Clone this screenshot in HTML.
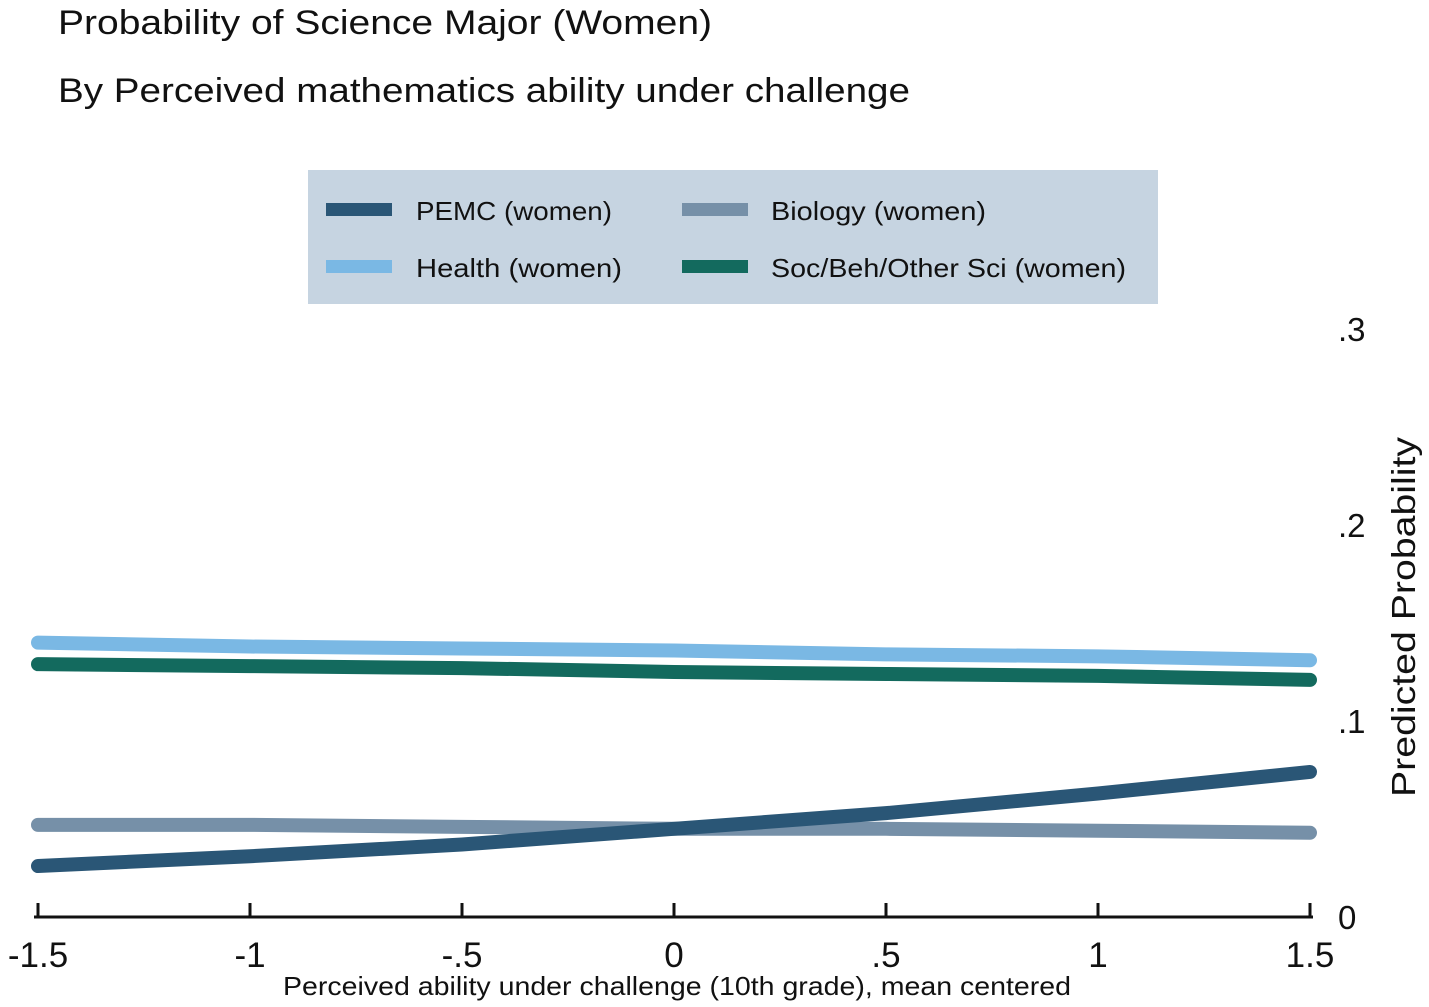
<!DOCTYPE html>
<html><head><meta charset="utf-8"><style>
body{margin:0;background:#fff;}
svg{display:block;font-family:"Liberation Sans",sans-serif;}
</style></head><body>
<svg id="chart" width="1429" height="1007">
<text x="58" y="34" font-size="34" fill="#111" textLength="654" lengthAdjust="spacingAndGlyphs">Probability of Science Major (Women)</text>
<text x="58" y="102" font-size="34" fill="#111" textLength="852" lengthAdjust="spacingAndGlyphs">By Perceived mathematics ability under challenge</text>
<g>
<rect x="308" y="170" width="850" height="134" fill="#c6d4e1"/>
<g><rect x="326" y="203" width="66" height="13" fill="#2a5676"/><text x="416" y="220" font-size="26" fill="#111" textLength="196" lengthAdjust="spacingAndGlyphs">PEMC (women)</text></g>
<g><rect x="682" y="203" width="66" height="13" fill="#7690a8"/><text x="771" y="220" font-size="26" fill="#111" textLength="215" lengthAdjust="spacingAndGlyphs">Biology (women)</text></g>
<g><rect x="326" y="260" width="66" height="13" fill="#7ab8e4"/><text x="416" y="277" font-size="26" fill="#111" textLength="206" lengthAdjust="spacingAndGlyphs">Health (women)</text></g>
<g><rect x="682" y="260" width="66" height="13" fill="#136a5e"/><text x="771" y="277" font-size="26" fill="#111" textLength="355" lengthAdjust="spacingAndGlyphs">Soc/Beh/Other Sci (women)</text></g>
</g>
<g id="plot"></g>
<text transform="translate(1415,617) rotate(-90)" text-anchor="middle" font-size="33" fill="#111" textLength="360" lengthAdjust="spacingAndGlyphs">Predicted Probability</text>
<text x="677" y="995" text-anchor="middle" font-size="26" fill="#111" textLength="788" lengthAdjust="spacingAndGlyphs">Perceived ability under challenge (10th grade), mean centered</text>
</svg>
<script>
const xValues=[-1.5,-1,-0.5,0,0.5,1,1.5];
const pemc=[0.026,0.031,0.037,0.045,0.053,0.063,0.074];
const biology=[0.047,0.047,0.046,0.045,0.045,0.044,0.043];
const health=[0.140,0.138,0.137,0.136,0.134,0.133,0.131];
const soc=[0.129,0.128,0.127,0.125,0.124,0.123,0.121];
const xTicks=[-1.5,-1,-0.5,0,0.5,1,1.5];
const xTickLabels=["-1.5","-1","-.5","0",".5","1","1.5"];
const yTicks=[0,0.1,0.2,0.3];
const yTickLabels=["0",".1",".2",".3"];
const X=v=>674+v*424;
const Y=v=>917-v*1960;
const NS="http://www.w3.org/2000/svg";
const plot=document.getElementById('plot');
function mk(t,a){const e=document.createElementNS(NS,t);for(const k in a)e.setAttribute(k,a[k]);plot.appendChild(e);return e;}
const ax=mk('line',{x1:34,x2:1313,y1:917,y2:917,stroke:'#111','stroke-width':3});


xTicks.forEach((v,i)=>{
 const t=mk('line',{x1:X(v),x2:X(v),y1:903,y2:917,stroke:'#111','stroke-width':3});
 
 
 const l=mk('text',{x:X(v),y:967,'text-anchor':'middle','font-size':35,fill:'#111'});
 l.textContent=xTickLabels[i];
 
 
});
yTicks.forEach((v,i)=>{
 const l=mk('text',{x:1338,y:Y(v)+12,'font-size':33,fill:'#111'});
 l.textContent=yTickLabels[i];
 
 
});
function series(vals,color,name){
 const p=mk('polyline',{points:vals.map((v,i)=>X(xValues[i])+','+Y(v)).join(' '),fill:'none',stroke:color,'stroke-width':14,'stroke-linecap':'round','stroke-linejoin':'round'});
 
 
}
series(health,'#7ab8e4','line-health');
series(soc,'#136a5e','line-soc');
series(biology,'#7690a8','line-biology');
series(pemc,'#2a5676','line-pemc');
</script>
</body></html>
